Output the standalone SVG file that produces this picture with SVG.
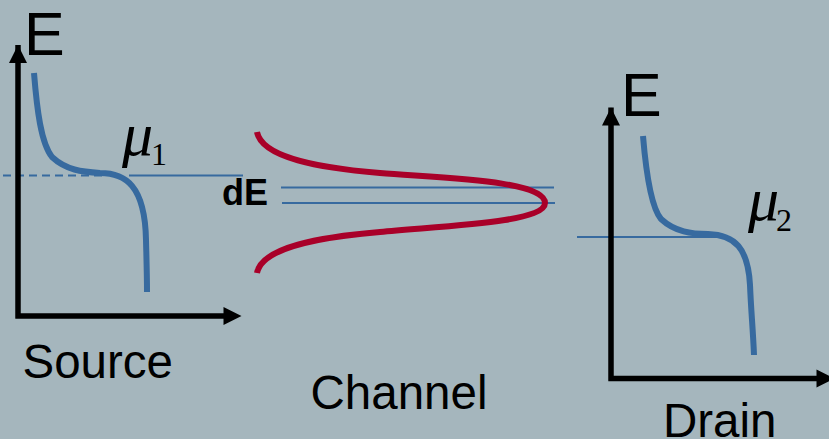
<svg xmlns="http://www.w3.org/2000/svg" width="829" height="439" viewBox="0 0 829 439">
<style>
text{font-family:"Liberation Sans",Arial,sans-serif;fill:#000}
.big{font-size:61px}
.lab{font-size:47.500px}
.mu{font-family:"Liberation Serif","Times New Roman",serif;font-style:italic;font-size:62px}
.sub{font-family:"Liberation Serif","Times New Roman",serif;font-size:32px}
.axis{fill:none;stroke:#000;stroke-width:5.500}
.head{fill:#000;stroke:none}
.curve{fill:none;stroke:#376A9F;stroke-width:6}
.thin{fill:none;stroke:#376A9F;stroke-width:1.800}
.red{fill:none;stroke:#A90029;stroke-width:6}
</style>
<defs>
<g id="axes-shape">
<path class="axis" d="M0 -271V2M-2.700 0H206"/>
<path class="head" d="M0 -271L-9 -253H9ZM223.500 0L205.500 -9V9Z"/>
</g>
</defs>
<rect width="829" height="439" fill="#A5B6BD"/>
<g id="connectors">
<path class="thin" stroke-dasharray="8 5" d="M3 175.500H105"/>
<path class="thin" d="M129 175.500H243"/>
<path class="thin" d="M281 187.500H554"/>
<path class="thin" d="M282 203H555"/>
<path class="thin" d="M577 237H720"/>
</g>
<g id="source">
<use href="#axes-shape" x="18" y="316"/>
<path class="curve" d="M34 73C37 110 41 143 52 157C66 170 82 172 100 173C125 173 145 185 146 240C146.500 260 147 275 147 292"/>
<text class="big" x="24" y="55">E</text>
<text class="mu" x="122" y="155">μ</text>
<text class="sub" x="151" y="165">1</text>
<text class="lab" x="22.500" y="378">Source</text>
</g>
<g id="channel">
<path class="red" d="M257 132C262 158 320 168 380 173C440 178 545 180 545 203C545 223 440 226 380 232C320 237 262 247 257 273"/>
<text x="222" y="205" font-size="36" font-weight="700">dE</text>
<text class="lab" x="310.500" y="409">Channel</text>
</g>
<g id="drain">
<use href="#axes-shape" x="611" y="378.500"/>
<path class="curve" d="M643 136C646 172 651 207 661 219C675 232 692 234 708 234C735 235 748 248 750 285C751 310 753 330 754 355"/>
<text class="big" x="621" y="116">E</text>
<text class="mu" x="748" y="220">μ</text>
<text class="sub" x="776" y="231">2</text>
<text class="lab" x="663" y="437">Drain</text>
</g>
</svg>
